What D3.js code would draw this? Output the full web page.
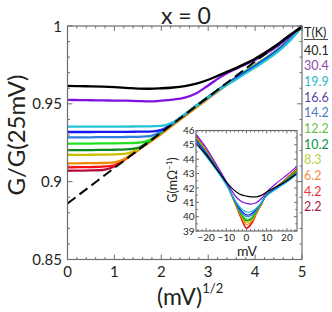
<!DOCTYPE html>
<html>
<head>
<meta charset="utf-8">
<script src="https://cdn.jsdelivr.net/npm/d3@7"></script>
<style>
  body { margin: 0; background: #fff; }
  svg text { font-family: Lato, "Open Sans", sans-serif; fill: #231f20; }
</style>
</head>
<body>
<svg id="chart" width="332" height="312"></svg>
<script>
// main panel: x = sqrt(mV), y = G/G(25mV)
var sqrtV = [0, 0.25, 0.5, 0.75, 1, 1.25, 1.5, 1.75, 2, 2.25, 2.5, 2.75, 3, 3.25, 3.5, 3.75, 4, 4.25, 4.5, 4.75, 5];

var temps = ["40.1", "30.4", "19.9", "16.6", "14.2", "12.2", "10.2", "8.3", "6.2", "4.2", "2.2"];
var lineColors = ["#000000", "#8010e0", "#20c4d4", "#1818f0", "#2f7fe0", "#20e020", "#0a8a20", "#c8c000", "#f08a00", "#ff1010", "#b0103c"];
var legendColors = ["#231f20", "#8c4aa6", "#2ab8c4", "#5848a4", "#4a78c4", "#6cc04a", "#0f9048", "#b8d040", "#f0904a", "#f0303a", "#a0204a"];

var g401 = [.9615, .9614, .9612, .9610, .9607, .9603, .9598, .9597, .9600, .9605, .9614, .9630, .9655, .9686, .9718, .9752, .9790, .9836, .9886, .9944, .9990];
var g304 = [.9525, .9524, .9523, .9522, .9521, .9520, .9518, .9516, .9520, .9527, .9540, .9568, .9618, .9670, .9712, .9748, .9782, .9826, .9876, .9936, 1.0];
var g199 = [.9353, .9353, .9353, .9353, .9354, .9354, .9355, .9355, .9358, .9381, .9433, .9488, .9542, .9594, .9640, .9686, .9734, .9783, .9838, .9908, 1.0];
var g166 = [.9319, .9319, .9319, .9320, .9320, .9320, .9321, .9322, .9333, .9377, .9431, .9488, .9543, .9596, .9644, .9692, .9740, .9790, .9845, .9912, 1.0];
var g142 = [.9285, .9285, .9285, .9286, .9286, .9287, .9288, .9292, .9322, .9376, .9431, .9488, .9543, .9597, .9648, .9696, .9744, .9794, .9849, .9914, 1.0];
var g122 = [.9245, .9245, .9245, .9246, .9246, .9247, .9250, .9268, .9319, .9374, .9431, .9488, .9544, .9598, .9650, .9700, .9748, .9798, .9852, .9916, 1.0];
var g102 = [.9203, .9203, .9203, .9204, .9205, .9207, .9217, .9263, .9317, .9374, .9431, .9488, .9543, .9597, .9649, .9699, .9747, .9797, .9851, .9916, 1.0];
var g83  = [.9173, .9172, .9173, .9174, .9175, .9180, .9208, .9262, .9318, .9374, .9431, .9488, .9543, .9597, .9649, .9699, .9747, .9797, .9851, .9916, 1.0];
var g62  = [.9118, .9118, .9119, .9120, .9124, .9152, .9203, .9253, .9306, .9363, .9420, .9477, .9533, .9589, .9645, .9697, .9746, .9796, .9850, .9915, 1.0];
var g42  = [.9092, .9093, .9094, .9096, .9105, .9149, .9203, .9259, .9316, .9373, .9430, .9487, .9542, .9596, .9649, .9699, .9747, .9797, .9851, .9915, 1.0];
var g22  = [.9070, .9071, .9072, .9075, .9097, .9148, .9203, .9258, .9315, .9372, .9429, .9486, .9541, .9595, .9648, .9699, .9747, .9797, .9851, .9916, 1.0];
var mainSeries = [g401, g304, g199, g166, g142, g122, g102, g83, g62, g42, g22];

// dashed guide line (end points)
var guideX = [0, 5];
var guideY = [0.886, 1.0];

var mainXTicks = [0, 1, 2, 3, 4, 5];
var mainYTicks = [0.85, 0.9, 0.95, 1];

// inset: G (mOhm^-1) vs mV
var mV = [-25, -20, -15, -10, -7.5, -5, -2.5, 0, 2.5, 5, 7.5, 10, 15, 20, 25];
var i401 = [45.10, 44.30, 43.35, 42.42, 42.02, 41.72, 41.52, 41.43, 41.38, 41.38, 41.50, 41.72, 42.10, 42.50, 43.00];
var i304 = [45.75, 44.80, 43.65, 42.45, 41.85, 41.35, 41.05, 40.92, 40.88, 40.98, 41.28, 41.72, 42.35, 42.90, 43.50];
var i199 = [45.10, 44.20, 43.25, 42.20, 41.60, 41.00, 40.55, 40.32, 40.35, 40.60, 41.00, 41.45, 41.95, 42.40, 42.95];
var i166 = [45.30, 44.40, 43.40, 42.30, 41.60, 40.95, 40.40, 40.12, 40.20, 40.55, 41.00, 41.50, 42.00, 42.50, 43.05];
var i142 = [45.35, 44.45, 43.40, 42.30, 41.60, 40.90, 40.30, 40.00, 40.10, 40.50, 41.00, 41.52, 42.02, 42.52, 43.08];
var i122 = [45.40, 44.50, 43.45, 42.30, 41.58, 40.85, 40.20, 39.82, 39.95, 40.45, 40.98, 41.55, 42.05, 42.55, 43.15];
var i102 = [45.40, 44.50, 43.45, 42.30, 41.57, 40.82, 40.12, 39.72, 39.85, 40.40, 40.95, 41.55, 42.05, 42.60, 43.20];
var i83  = [45.45, 44.55, 43.50, 42.30, 41.56, 40.80, 40.05, 39.60, 39.75, 40.35, 40.92, 41.55, 42.05, 42.60, 43.25];
var i62  = [45.50, 44.60, 43.50, 42.30, 41.55, 40.75, 39.95, 39.45, 39.65, 40.30, 40.90, 41.55, 42.10, 42.65, 43.30];
var i42  = [45.55, 44.60, 43.50, 42.30, 41.54, 40.70, 39.85, 39.18, 39.50, 40.25, 40.88, 41.55, 42.10, 42.65, 43.30];
var i22  = [45.60, 44.65, 43.55, 42.35, 41.55, 40.72, 39.85, 39.22, 39.55, 40.25, 40.88, 41.55, 42.10, 42.70, 43.35];
var insetSeries = [i401, i304, i199, i166, i142, i122, i102, i83, i62, i42, i22];

var insetXTicks = [-20, -10, 0, 10, 20];
var insetYTicks = [39, 40, 41, 42, 43, 44, 45, 46];

var svg = d3.select("#chart");
var frameColor = "#6d6e71";

function drawFrame(g, x, y, xMajor, xMinor, yMajor, yMinor, bigLen, smallLen) {
    var x0 = x.range()[0], x1 = x.range()[1];
    var y0 = y.range()[0], y1 = y.range()[1];
    var ticks = g.append("g").attr("stroke", frameColor).attr("stroke-width", 1);
    xMinor.forEach(function(v) {
        var len = xMajor.indexOf(v) >= 0 ? bigLen : smallLen;
        ticks.append("line").attr("x1", x(v)).attr("x2", x(v)).attr("y1", y0).attr("y2", y0 - len);
        ticks.append("line").attr("x1", x(v)).attr("x2", x(v)).attr("y1", y1).attr("y2", y1 + len);
    });
    yMinor.forEach(function(v) {
        var len = yMajor.some(function(m) { return Math.abs(m - v) < 1e-6; }) ? bigLen : smallLen;
        ticks.append("line").attr("x1", x0).attr("x2", x0 + len).attr("y1", y(v)).attr("y2", y(v));
        ticks.append("line").attr("x1", x1).attr("x2", x1 - len).attr("y1", y(v)).attr("y2", y(v));
    });
    g.append("rect")
        .attr("x", x0).attr("y", y1)
        .attr("width", x1 - x0).attr("height", y0 - y1)
        .attr("fill", "none").attr("stroke", frameColor).attr("stroke-width", 1.2);
}

// ---- main panel
var x = d3.scaleLinear().domain([0, 5]).range([67.5, 302]);
var y = d3.scaleLinear().domain([0.85, 1]).range([259.5, 26]);

var main = svg.append("g");
var line = d3.line()
    .x(function(d, i) { return x(sqrtV[i]); })
    .y(function(d) { return y(d); })
    .curve(d3.curveMonotoneX);

// low T first, black last
for (var k = mainSeries.length - 1; k >= 0; k--) {
    main.append("path")
        .attr("d", line(mainSeries[k]))
        .attr("fill", "none")
        .attr("stroke", lineColors[k])
        .attr("stroke-width", 2.3);
}

main.append("line")
    .attr("x1", x(guideX[0])).attr("y1", y(guideY[0]))
    .attr("x2", x(guideX[1])).attr("y2", y(guideY[1]))
    .attr("stroke", "#000").attr("stroke-width", 2)
    .attr("stroke-dasharray", "10,5");

drawFrame(main, x, y, mainXTicks, d3.range(0, 5.01, 0.2).map(function(v) { return +v.toFixed(1); }),
    mainYTicks, d3.range(0.85, 1.001, 0.01).map(function(v) { return +v.toFixed(2); }), 5, 2.5);

main.selectAll(".xt").data(mainXTicks).enter().append("text")
    .attr("x", function(d) { return x(d); })
    .attr("y", 277)
    .attr("text-anchor", "middle")
    .style("font-size", "15px")
    .text(function(d) { return d; });

main.selectAll(".yt").data(mainYTicks).enter().append("text")
    .attr("x", 62)
    .attr("y", function(d) { return y(d) + 5.5; })
    .attr("text-anchor", "end")
    .style("font-size", "15px")
    .text(function(d) { return d; });

svg.append("text")
    .attr("transform", "translate(25,135) rotate(-90)")
    .attr("text-anchor", "middle")
    .style("font-size", "24px")
    .text("G/G(25mV)");

var xl = svg.append("text")
    .attr("x", 157).attr("y", 305)
    .style("font-size", "23px");
xl.append("tspan").text("(mV)");
xl.append("tspan").attr("dy", -12).style("font-size", "13px").text("1/2");

svg.append("text")
    .attr("x", 186).attr("y", 23.5)
    .attr("text-anchor", "middle")
    .style("font-size", "23px")
    .text("x = 0");

// ---- legend
var leg = svg.append("g");
leg.append("text").attr("x", 304).attr("y", 37).style("font-size", "12.5px").text("T(K)");
leg.append("line").attr("x1", 304).attr("x2", 328).attr("y1", 39.5).attr("y2", 39.5)
    .attr("stroke", "#231f20").attr("stroke-width", 0.8);
leg.selectAll(".lt").data(temps).enter().append("text")
    .attr("x", 304)
    .attr("y", function(d, i) { return 54.5 + i * 15.67; })
    .style("font-size", "12.5px")
    .style("fill", function(d, i) { return legendColors[i]; })
    .text(function(d) { return d; });

// ---- inset
var ix = d3.scaleLinear().domain([-25, 25]).range([196, 297]);
var iy = d3.scaleLinear().domain([39, 46]).range([231, 130.5]);
var inset = svg.append("g");
inset.append("rect")
    .attr("x", 196).attr("y", 130.5)
    .attr("width", 101).attr("height", 100.5)
    .attr("fill", "#fff");

var iline = d3.line()
    .x(function(d, i) { return ix(mV[i]); })
    .y(function(d) { return iy(d); })
    .curve(d3.curveCatmullRom);

for (var j = insetSeries.length - 1; j >= 0; j--) {
    inset.append("path")
        .attr("d", iline(insetSeries[j]))
        .attr("fill", "none")
        .attr("stroke", lineColors[j])
        .attr("stroke-width", 1.2);
}

drawFrame(inset, ix, iy, insetXTicks, d3.range(-24, 25, 2),
    insetYTicks, d3.range(39, 46.01, 0.5), 3, 1.8);

inset.selectAll(".ixt").data(insetXTicks).enter().append("text")
    .attr("x", function(d) { return ix(d); })
    .attr("y", 240.5)
    .attr("text-anchor", "middle")
    .style("font-size", "10px")
    .text(function(d) { return d < 0 ? "\u2212" + Math.abs(d) : d; });

inset.selectAll(".iyt").data(insetYTicks).enter().append("text")
    .attr("x", 194.5)
    .attr("y", function(d) { return iy(d) + 3.6; })
    .attr("text-anchor", "end")
    .style("font-size", "10px")
    .text(function(d) { return d; });

inset.append("text")
    .attr("x", 247).attr("y", 256)
    .attr("text-anchor", "middle")
    .style("font-size", "14px")
    .text("mV");

var il = inset.append("text")
    .attr("transform", "translate(177,180) rotate(-90)")
    .attr("text-anchor", "middle")
    .style("font-size", "12.5px");
il.append("tspan").text("G(m\u03A9");
il.append("tspan").attr("dy", -5).style("font-size", "8px").text("\u22121");
il.append("tspan").attr("dy", 5).text(")");
</script>
</body>
</html>
